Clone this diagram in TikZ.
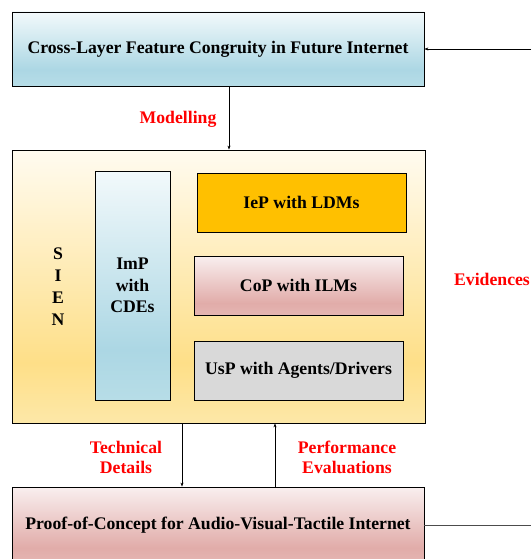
\documentclass[tikz,border=0pt]{standalone}
\usepackage{fontspec}
\setmainfont{Liberation Serif}
\usetikzlibrary{arrows.meta,shadows}
\definecolor{bluetop}{HTML}{F2F9FB}
\definecolor{bluemid}{HTML}{ACD7E4}
\definecolor{bluebot}{HTML}{B7DDE7}
\definecolor{yeltop}{HTML}{FFFBF0}
\definecolor{yelmid}{HTML}{FEDF88}
\definecolor{yelbot}{HTML}{FDE8A8}
\definecolor{pinktop}{HTML}{F9EFEF}
\definecolor{pinkmid}{HTML}{E1ACA9}
\definecolor{pinkbot}{HTML}{E5B6B3}
\definecolor{iepfill}{HTML}{FFC000}
\definecolor{uspfill}{HTML}{D9D9D9}
\definecolor{labred}{HTML}{FF0000}
\pgfdeclareverticalshading{blueg}{100bp}{color(0bp)=(bluebot); color(25bp)=(bluebot); color(36bp)=(bluemid); color(75bp)=(bluetop); color(100bp)=(bluetop)}
\pgfdeclareverticalshading{yelg}{100bp}{color(0bp)=(yelbot); color(25bp)=(yelbot); color(36bp)=(yelmid); color(75bp)=(yeltop); color(100bp)=(yeltop)}
\pgfdeclareverticalshading{pinkg}{100bp}{color(0bp)=(pinkbot); color(25bp)=(pinkbot); color(35bp)=(pinkmid); color(75bp)=(pinktop); color(100bp)=(pinktop)}
\begin{document}
\begin{tikzpicture}[x=1pt,y=-1pt,
  every node/.style={font=\fontsize{17.7}{21.5}\selectfont\bfseries, inner sep=0pt},
  box/.style={draw=black, line width=0.8pt, rectangle,
    drop shadow={shadow xshift=1.2pt, shadow yshift=-1.2pt, opacity=0.35, fill=black!60}},
  lab/.style={text=labred, align=center},
  arr/.style={draw=black, line width=0.7pt, -{Stealth[length=4pt,width=3pt]}},
  plain/.style={draw=black!70, line width=0.8pt}]
\useasboundingbox (0,0) rectangle (531,559);
\clip (0,0) rectangle (531,559);
\node[box, shading=blueg, minimum width=412pt, minimum height=74pt] (top) at (218,49) {Cross-Layer Feature Congruity in Future Internet};
\node[box, shading=yelg, minimum width=413pt, minimum height=273pt] (main) at (218.5,286.5) {};
\node[align=center] (sien) at (58,287) {S\\[0.5pt]I\\[0.5pt]E\\[0.5pt]N};
\node[box, shading=blueg, minimum width=75pt, minimum height=229pt, align=center] (imp) at (132.5,285.5) {ImP\\with\\CDEs};
\node[box, fill=iepfill, minimum width=209pt, minimum height=59pt] (iep) at (301.5,202.5) {IeP with LDMs};
\node[box, shading=pinkg, minimum width=209pt, minimum height=59pt] (cop) at (298.5,285.5) {CoP with ILMs};
\node[box, fill=uspfill, minimum width=209pt, minimum height=59pt] (usp) at (298.5,370.5) {UsP with Agents/Drivers};
\node[box, shading=pinkg, minimum width=412pt, minimum height=76pt] (bot) at (218,525) {Proof-of-Concept for Audio-Visual-Tactile Internet};
\node[lab] (model) at (178,119) {Modelling};
\node[lab] (evid) at (492,279) {Evidences};
\node[lab] (tech) at (126,457) {Technical\\[-1.5pt]Details};
\node[lab] (perf) at (347,457) {Performance\\[-1.5pt]Evaluations};
\coordinate (rin) at (531,49);
\coordinate (rout) at (531,525);
\draw[arr] (rin) -- (top.east);
\draw[arr] ([xshift=11pt]top.south) -- ([xshift=10.5pt]main.north);
\draw[arr] ([xshift=-36.5pt]main.south) -- ([xshift=-36pt]bot.north);
\draw[arr] ([xshift=57pt]bot.north) -- ([xshift=56.5pt]main.south);
\draw[plain] (bot.east) -- (rout);
\end{tikzpicture}
\end{document}
